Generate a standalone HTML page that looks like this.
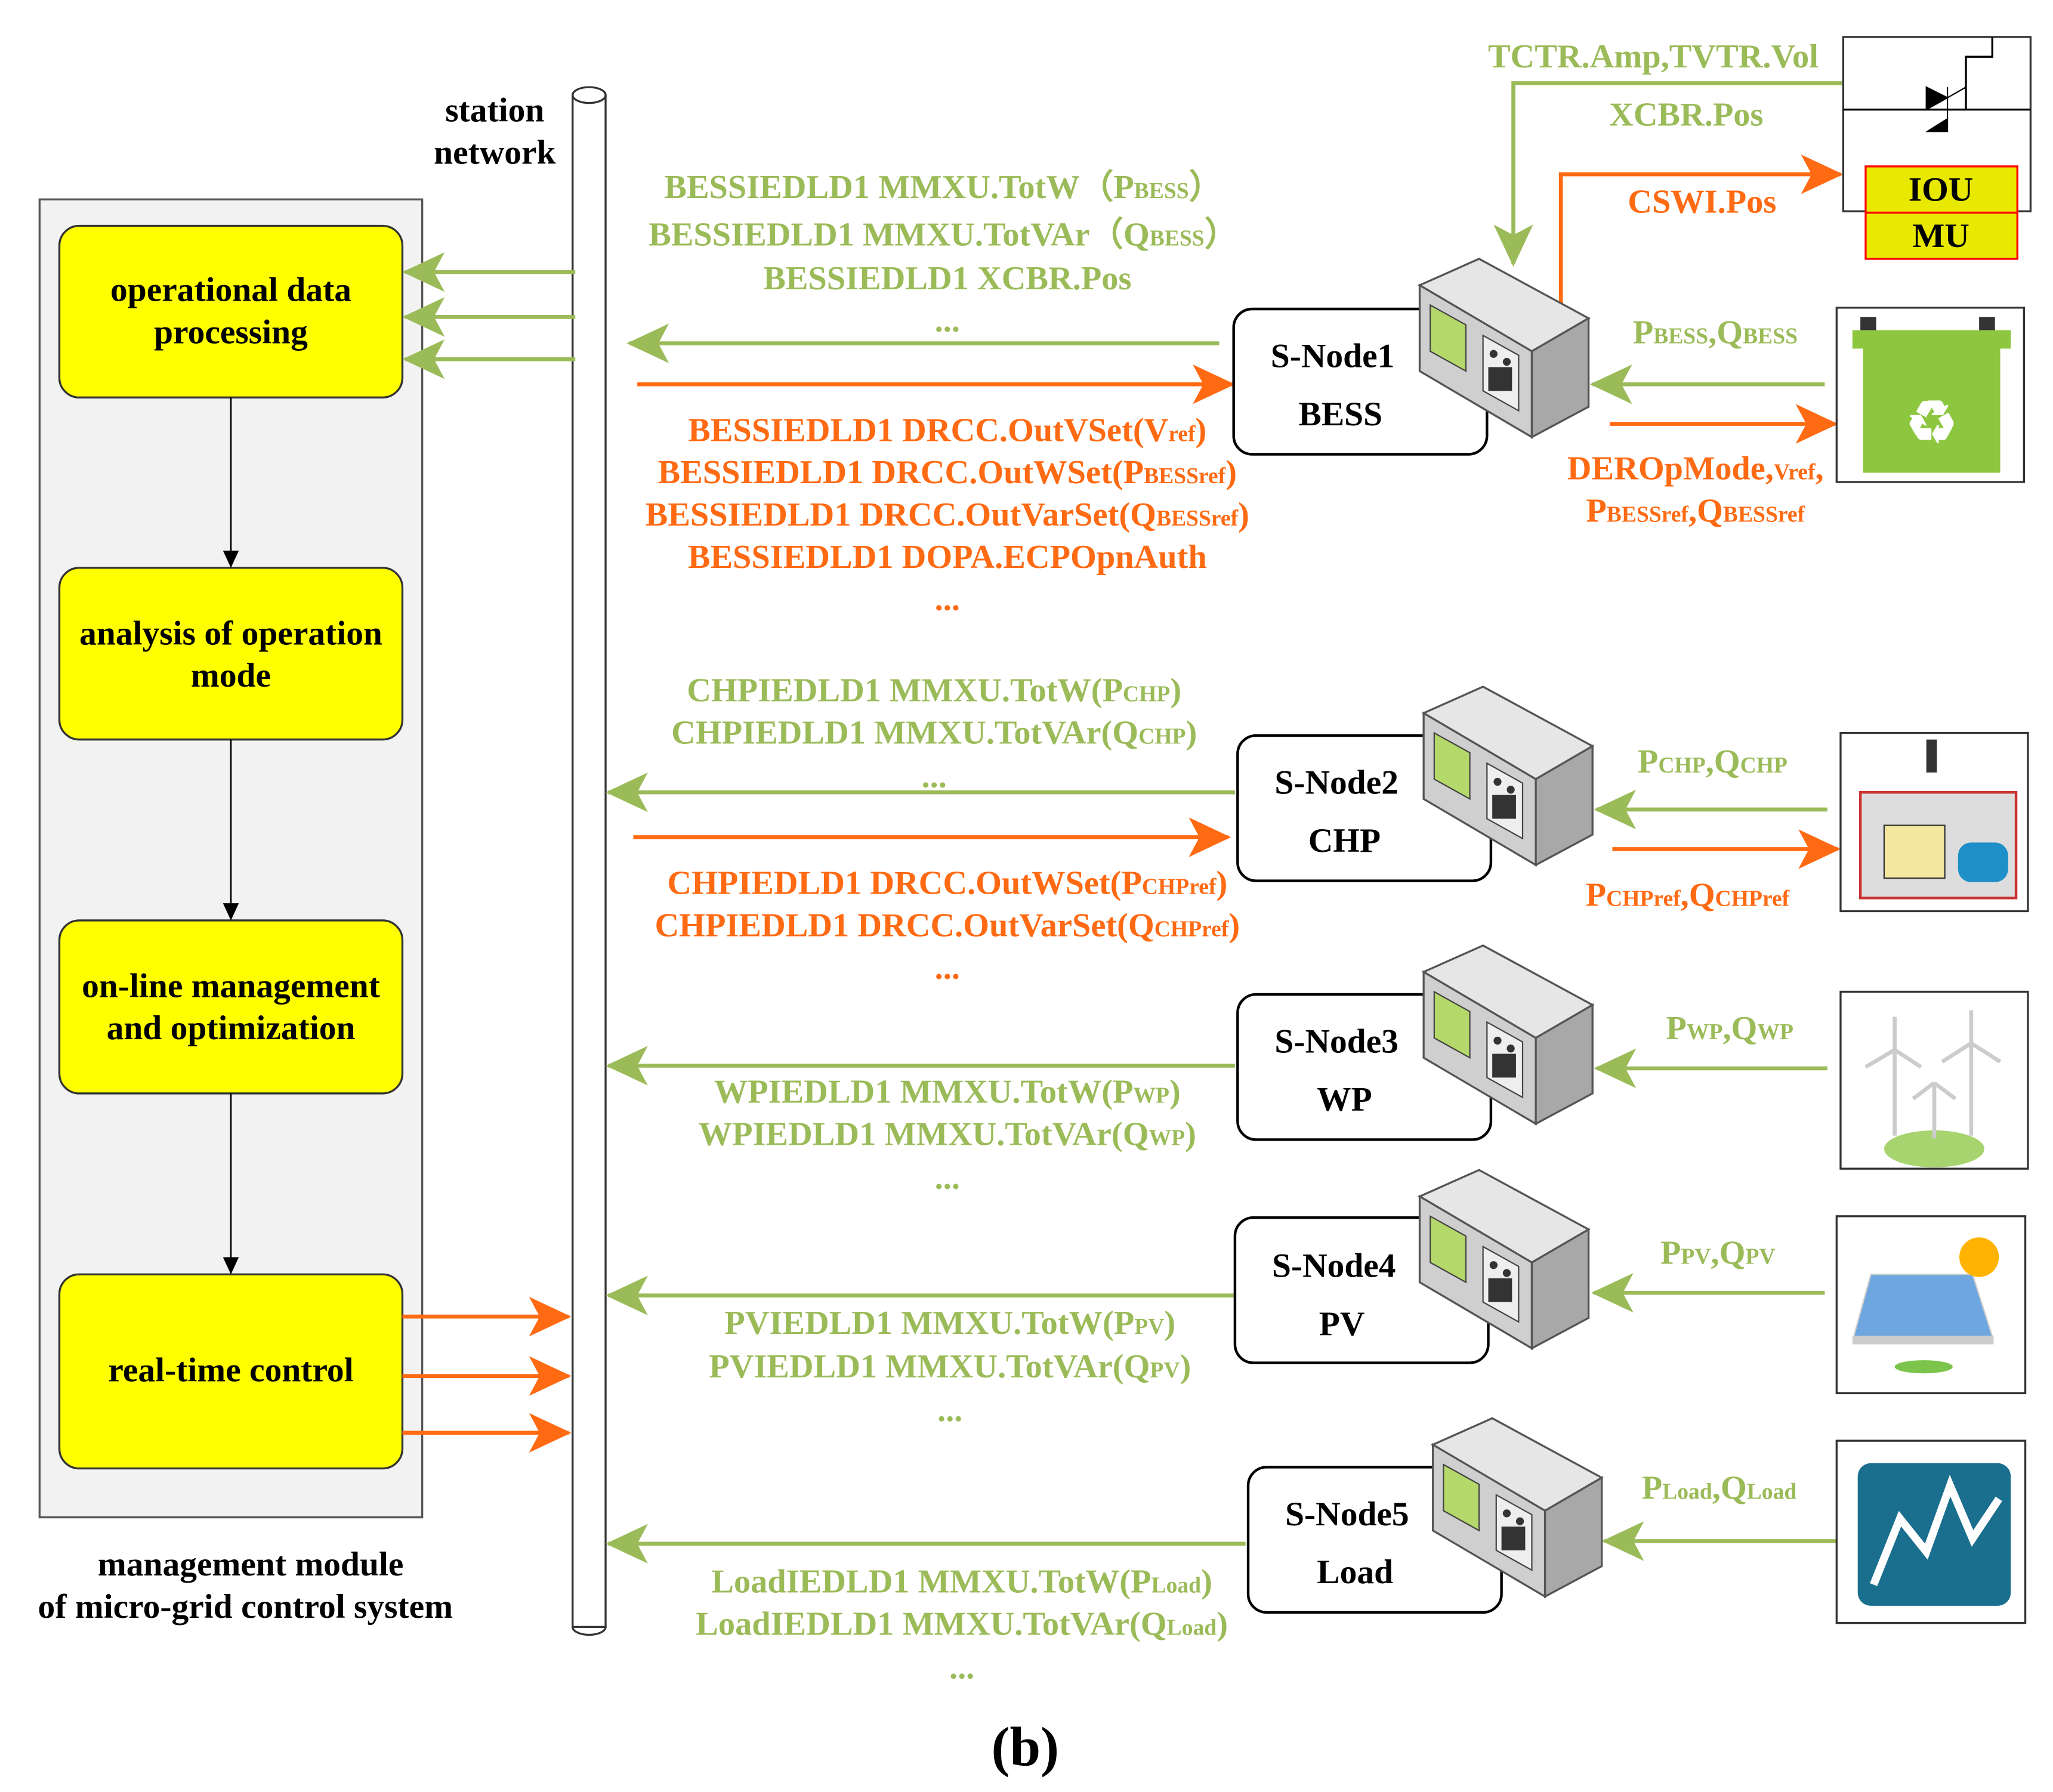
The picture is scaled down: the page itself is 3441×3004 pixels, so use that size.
<!DOCTYPE html>
<html><head><meta charset="utf-8"><style>html,body{margin:0;padding:0;background:#fff}svg{display:block}</style></head>
<body>
<svg width="3441" height="3004" viewBox="0 0 1556 1357" preserveAspectRatio="none" xmlns="http://www.w3.org/2000/svg" font-family="Liberation Serif, serif" font-weight="bold">
<defs>
<marker id="g" markerUnits="userSpaceOnUse" markerWidth="34" markerHeight="34" refX="30" refY="17" orient="auto"><path d="M0,2 L32,17 L0,32 L8,17 Z" fill="#9BBB59"/></marker>
<marker id="o" markerUnits="userSpaceOnUse" markerWidth="34" markerHeight="34" refX="30" refY="17" orient="auto"><path d="M0,2 L32,17 L0,32 L8,17 Z" fill="#FF6A13"/></marker>
<marker id="k" markerUnits="userSpaceOnUse" markerWidth="14" markerHeight="14" refX="12" refY="7" orient="auto"><path d="M0,1 L13,7 L0,13 Z" fill="#000"/></marker>
<g id="dev">
<polygon points="0,20 45,0 128,45 85,70" fill="#e6e6e6" stroke="#555" stroke-width="1.5"/>
<polygon points="0,20 85,70 85,135 0,85" fill="#cfcfcf" stroke="#555" stroke-width="1.5"/>
<polygon points="85,70 128,45 128,112 85,135" fill="#a8a8a8" stroke="#555" stroke-width="1.5"/>
<polygon points="8,35 35,50 35,85 8,70" fill="#b5d86a" stroke="#444"/>
<polygon points="48,58 75,73 75,115 48,100" fill="#eee" stroke="#444"/>
<g fill="#333"><circle cx="56" cy="72" r="3"/><circle cx="66" cy="78" r="3"/><rect x="52" y="82" width="18" height="18"/></g>
</g>
</defs>
<rect x="30" y="151" width="290" height="998" fill="#f2f2f2" stroke="#555" stroke-width="1.5"/>
<g fill="#FFFF00" stroke="#333" stroke-width="1.5">
<rect x="45" y="171" width="260" height="130" rx="15"/>
<rect x="45" y="430" width="260" height="130" rx="15"/>
<rect x="45" y="697" width="260" height="131" rx="15"/>
<rect x="45" y="965" width="260" height="147" rx="15"/>
</g>
<g font-size="26" text-anchor="middle" fill="#000">
<text x="175" y="228">operational data</text><text x="175" y="260">processing</text>
<text x="175" y="488">analysis of operation</text><text x="175" y="520">mode</text>
<text x="175" y="755">on-line management</text><text x="175" y="787">and optimization</text>
<text x="175" y="1046">real-time control</text>
<text x="190" y="1193">management module</text><text x="186" y="1225">of micro-grid control system</text>
<text x="375" y="92">station</text><text x="375" y="124">network</text>
<text x="777" y="1337" font-size="42">(b)</text>
</g>
<g stroke="#000" stroke-width="1.2" marker-end="url(#k)">
<line x1="175" y1="301" x2="175" y2="429"/><line x1="175" y1="560" x2="175" y2="696"/><line x1="175" y1="828" x2="175" y2="964"/>
</g>
<rect x="434" y="72" width="25" height="1160" fill="#fff" stroke="#333" stroke-width="1.5"/>
<ellipse cx="446.5" cy="72" rx="12.5" ry="6" fill="#fff" stroke="#333" stroke-width="1.5"/>
<path d="M434,1232 A12.5,6 0 0 0 459,1232" fill="none" stroke="#333" stroke-width="1.5"/>
<g stroke="#9BBB59" stroke-width="3" fill="none" marker-end="url(#g)">
<line x1="436" y1="206" x2="307" y2="206"/><line x1="436" y1="240" x2="307" y2="240"/><line x1="436" y1="272" x2="307" y2="272"/>
<line x1="924" y1="260" x2="477" y2="260"/>
<line x1="936" y1="600" x2="461" y2="600"/>
<line x1="936" y1="807" x2="461" y2="807"/>
<line x1="936" y1="981" x2="461" y2="981"/>
<line x1="944" y1="1169" x2="461" y2="1169"/>
<polyline points="1396,63 1147,63 1147,200"/>
<line x1="1383" y1="291" x2="1207" y2="291"/>
<line x1="1385" y1="613" x2="1210" y2="613"/>
<line x1="1385" y1="809" x2="1210" y2="809"/>
<line x1="1383" y1="979" x2="1208" y2="979"/>
<line x1="1392" y1="1167" x2="1216" y2="1167"/>
</g>
<g stroke="#FF6A13" stroke-width="3" fill="none" marker-end="url(#o)">
<line x1="305" y1="997" x2="431" y2="997"/><line x1="305" y1="1042" x2="431" y2="1042"/><line x1="305" y1="1085" x2="431" y2="1085"/>
<line x1="483" y1="291" x2="934" y2="291"/>
<line x1="480" y1="634" x2="931" y2="634"/>
<polyline points="1183,235 1183,132 1395,132"/>
<line x1="1220" y1="321" x2="1391" y2="321"/>
<line x1="1222" y1="643" x2="1393" y2="643"/>
</g>
<g fill="#fff" stroke="#000" stroke-width="2">
<rect x="935" y="234" width="192" height="110" rx="14"/>
<rect x="938" y="557" width="192" height="110" rx="14"/>
<rect x="938" y="753" width="192" height="110" rx="14"/>
<rect x="936" y="922" width="192" height="110" rx="14"/>
<rect x="946" y="1111" width="192" height="110" rx="14"/>
</g>
<use href="#dev" x="1076" y="196"/><use href="#dev" x="1079" y="520"/><use href="#dev" x="1079" y="716"/><use href="#dev" x="1076" y="886"/><use href="#dev" x="1086" y="1074"/>
<g font-size="26" text-anchor="middle" fill="#000">
<text x="1010" y="278">S-Node1</text><text x="1016" y="322">BESS</text>
<text x="1013" y="601">S-Node2</text><text x="1019" y="645">CHP</text>
<text x="1013" y="797">S-Node3</text><text x="1019" y="841">WP</text>
<text x="1011" y="967">S-Node4</text><text x="1017" y="1011">PV</text>
<text x="1021" y="1155">S-Node5</text><text x="1027" y="1199">Load</text>
</g>
<g font-size="25.5" text-anchor="middle" fill="#9BBB59">
<text x="715" y="150">BESSIEDLD1 MMXU.TotW（P<tspan font-size="17">BESS</tspan>）</text>
<text x="715" y="186">BESSIEDLD1 MMXU.TotVAr（Q<tspan font-size="17">BESS</tspan>）</text>
<text x="718" y="219">BESSIEDLD1 XCBR.Pos</text>
<text x="718" y="251">...</text>
<text x="708" y="531">CHPIEDLD1 MMXU.TotW(P<tspan font-size="17">CHP</tspan>)</text>
<text x="708" y="563">CHPIEDLD1 MMXU.TotVAr(Q<tspan font-size="17">CHP</tspan>)</text>
<text x="708" y="596">...</text>
<text x="718" y="835">WPIEDLD1 MMXU.TotW(P<tspan font-size="17">WP</tspan>)</text>
<text x="718" y="867">WPIEDLD1 MMXU.TotVAr(Q<tspan font-size="17">WP</tspan>)</text>
<text x="718" y="900">...</text>
<text x="720" y="1010">PVIEDLD1 MMXU.TotW(P<tspan font-size="17">PV</tspan>)</text>
<text x="720" y="1043">PVIEDLD1 MMXU.TotVAr(Q<tspan font-size="17">PV</tspan>)</text>
<text x="720" y="1076">...</text>
<text x="729" y="1206">LoadIEDLD1 MMXU.TotW(P<tspan font-size="17">Load</tspan>)</text>
<text x="729" y="1238">LoadIEDLD1 MMXU.TotVAr(Q<tspan font-size="17">Load</tspan>)</text>
<text x="729" y="1271">...</text>
<text x="1253" y="51">TCTR.Amp,TVTR.Vol</text>
<text x="1278" y="95">XCBR.Pos</text>
<text x="1300" y="260">P<tspan font-size="17">BESS</tspan>,Q<tspan font-size="17">BESS</tspan></text>
<text x="1298" y="585">P<tspan font-size="17">CHP</tspan>,Q<tspan font-size="17">CHP</tspan></text>
<text x="1311" y="787">P<tspan font-size="17">WP</tspan>,Q<tspan font-size="17">WP</tspan></text>
<text x="1302" y="957">P<tspan font-size="17">PV</tspan>,Q<tspan font-size="17">PV</tspan></text>
<text x="1303" y="1135">P<tspan font-size="17">Load</tspan>,Q<tspan font-size="17">Load</tspan></text>
</g>
<g font-size="25.5" text-anchor="middle" fill="#FF6A13">
<text x="718" y="334">BESSIEDLD1 DRCC.OutVSet(V<tspan font-size="17">ref</tspan>)</text>
<text x="718" y="366">BESSIEDLD1 DRCC.OutWSet(P<tspan font-size="17">BESSref</tspan>)</text>
<text x="718" y="398">BESSIEDLD1 DRCC.OutVarSet(Q<tspan font-size="17">BESSref</tspan>)</text>
<text x="718" y="430">BESSIEDLD1 DOPA.ECPOpnAuth</text>
<text x="718" y="462">...</text>
<text x="718" y="677">CHPIEDLD1 DRCC.OutWSet(P<tspan font-size="17">CHPref</tspan>)</text>
<text x="718" y="709">CHPIEDLD1 DRCC.OutVarSet(Q<tspan font-size="17">CHPref</tspan>)</text>
<text x="718" y="741">...</text>
<text x="1290" y="161">CSWI.Pos</text>
<text x="1285" y="363">DEROpMode,<tspan font-size="17">Vref</tspan>,</text>
<text x="1285" y="395">P<tspan font-size="17">BESSref</tspan>,Q<tspan font-size="17">BESSref</tspan></text>
<text x="1279" y="686">P<tspan font-size="17">CHPref</tspan>,Q<tspan font-size="17">CHPref</tspan></text>
</g>
<rect x="1397" y="28" width="142" height="132" fill="#fff" stroke="#333" stroke-width="1.5"/>
<path d="M1397,83 H1539 M1490,83 V43 H1510 V28" stroke="#000" stroke-width="1.5" fill="none"/>
<path d="M1460,66 L1476,74 L1460,83 Z M1476,66 V100 M1460,100 L1476,90 L1476,100" fill="#000" stroke="#000"/>
<path d="M1476,74 L1490,66" stroke="#000"/>
<rect x="1414" y="126" width="115" height="70" fill="#E8E800" stroke="#f00" stroke-width="1.5"/>
<line x1="1414" y1="161" x2="1529" y2="161" stroke="#f00" stroke-width="1.5"/>
<text x="1471" y="152" font-size="26" text-anchor="middle">IOU</text>
<text x="1471" y="187" font-size="26" text-anchor="middle">MU</text>
<rect x="1392" y="233" width="142" height="132" fill="#fff" stroke="#333" stroke-width="1.5"/>
<rect x="1412" y="258" width="104" height="100" fill="#8DC63F"/>
<rect x="1404" y="250" width="120" height="14" fill="#8DC63F"/>
<rect x="1410" y="240" width="12" height="10" fill="#333"/><rect x="1500" y="240" width="12" height="10" fill="#333"/>
<text x="1464" y="335" font-size="44" text-anchor="middle" fill="#fff">♻</text>
<rect x="1395" y="555" width="142" height="135" fill="#fff" stroke="#333" stroke-width="1.5"/>
<rect x="1410" y="600" width="118" height="80" fill="#ddd" stroke="#c33" stroke-width="2"/>
<rect x="1460" y="560" width="8" height="25" fill="#333"/>
<rect x="1428" y="625" width="46" height="40" fill="#f3e7a0" stroke="#333"/>
<rect x="1484" y="638" width="38" height="30" rx="10" fill="#1e8fc8"/>
<rect x="1395" y="751" width="142" height="134" fill="#fff" stroke="#333" stroke-width="1.5"/>
<ellipse cx="1466" cy="870" rx="38" ry="14" fill="#a7d46f"/>
<g stroke="#ccc" stroke-width="3" fill="none"><path d="M1436,860 V795 M1436,795 L1414,808 M1436,795 L1456,808 M1436,795 V770"/><path d="M1494,860 V790 M1494,790 L1472,804 M1494,790 L1516,804 M1494,790 V765"/><path d="M1466,862 V820 M1466,820 L1450,832 M1466,820 L1482,832"/></g>
<rect x="1392" y="921" width="143" height="134" fill="#fff" stroke="#333" stroke-width="1.5"/>
<polygon points="1418,965 1495,965 1510,1012 1405,1012" fill="#6ea7e0" stroke="#ccc"/>
<rect x="1404" y="1012" width="107" height="6" fill="#ccc"/>
<ellipse cx="1458" cy="1035" rx="22" ry="5" fill="#7cc44c"/>
<circle cx="1500" cy="952" r="15" fill="#FFB300"/>
<rect x="1392" y="1091" width="143" height="138" fill="#fff" stroke="#333" stroke-width="1.5"/>
<rect x="1408" y="1108" width="116" height="108" rx="10" fill="#1a6e8e"/>
<polyline points="1420,1200 1440,1150 1460,1175 1478,1125 1495,1165 1515,1135" fill="none" stroke="#fff" stroke-width="6"/>
</svg>
</body></html>
